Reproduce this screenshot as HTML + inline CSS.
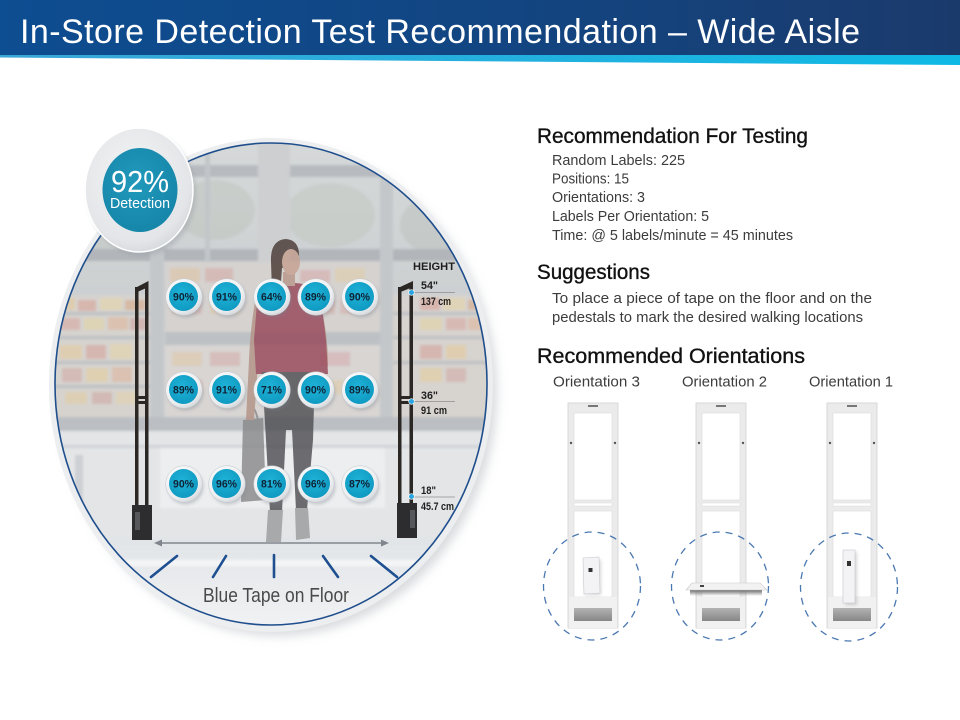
<!DOCTYPE html>
<html><head><meta charset="utf-8">
<style>html,body{margin:0;padding:0;background:#fff;width:960px;height:720px;overflow:hidden}svg{display:block}</style>
</head>
<body>
<svg width="960" height="720" viewBox="0 0 960 720" xmlns="http://www.w3.org/2000/svg" xmlns:xlink="http://www.w3.org/1999/xlink" font-family="Liberation Sans, sans-serif">
<defs>
  <linearGradient id="hdr" x1="0" x2="1" y1="0" y2="0">
    <stop offset="0" stop-color="#0d4d91"/><stop offset="0.6" stop-color="#13447f"/><stop offset="1" stop-color="#1b3a6c"/>
  </linearGradient>
  <linearGradient id="cy" x1="0" x2="1"><stop offset="0" stop-color="#3aa6d6"/><stop offset="1" stop-color="#0fb9e5"/></linearGradient>
  <clipPath id="cl"><ellipse cx="271" cy="384" rx="216" ry="241"/></clipPath>
  <linearGradient id="bg" x1="0" y1="0" x2="0" y2="1">
    <stop offset="0" stop-color="#d6d9d9"/><stop offset="0.35" stop-color="#cbcfd1"/><stop offset="0.6" stop-color="#d1d4d7"/><stop offset="0.8" stop-color="#e6e8ea"/><stop offset="1" stop-color="#f0f1f3"/>
  </linearGradient>
  <linearGradient id="floor" x1="0" y1="0" x2="0" y2="1">
    <stop offset="0" stop-color="#e1e4e7"/><stop offset="1" stop-color="#f3f4f6"/>
  </linearGradient>
  <radialGradient id="btn" cx="0.4" cy="0.35" r="0.75"><stop offset="0" stop-color="#ffffff"/><stop offset="0.7" stop-color="#eceef0"/><stop offset="1" stop-color="#c9cdd2"/></radialGradient>
  <radialGradient id="teal" cx="0.45" cy="0.4" r="0.65"><stop offset="0" stop-color="#1fb3d8"/><stop offset="1" stop-color="#0e98c0"/></radialGradient>
  <radialGradient id="halo" cx="0.45" cy="0.4" r="0.65"><stop offset="0" stop-color="#f4f5f6"/><stop offset="0.8" stop-color="#e3e5e8"/><stop offset="1" stop-color="#d2d5d9"/></radialGradient>
  <radialGradient id="bteal" cx="0.45" cy="0.4" r="0.65"><stop offset="0" stop-color="#2199bb"/><stop offset="1" stop-color="#1585a8"/></radialGradient>
  <linearGradient id="gband" x1="0" y1="0" x2="0" y2="1"><stop offset="0" stop-color="#b3b3b3"/><stop offset="1" stop-color="#878787"/></linearGradient>
  <linearGradient id="trsh" x1="0" y1="0" x2="0" y2="1"><stop offset="0" stop-color="#6a6a6a"/><stop offset="1" stop-color="#6a6a6a" stop-opacity="0"/></linearGradient>
  <filter id="bl" x="-20%" y="-20%" width="140%" height="140%"><feGaussianBlur stdDeviation="5"/></filter>
  <filter id="bl2" x="-30%" y="-30%" width="160%" height="160%"><feGaussianBlur stdDeviation="1.5"/></filter>
  <filter id="bl3" x="-10%" y="-10%" width="120%" height="120%"><feGaussianBlur stdDeviation="2"/></filter>
  <filter id="soft" x="-10%" y="-10%" width="120%" height="120%"><feGaussianBlur stdDeviation="1.2"/></filter>
  <g id="b">
    <circle cx="1.5" cy="2.5" r="18" fill="#7a8088" opacity="0.35" filter="url(#bl2)"/>
    <circle cx="0" cy="0" r="18.3" fill="url(#btn)" stroke="#c3c8cd" stroke-width="0.5"/>
    <circle cx="-0.5" cy="-0.5" r="14.5" fill="url(#teal)"/>
  </g>
  <g id="ped">
    <rect x="0" y="0" width="50" height="225" fill="#ebebeb" stroke="#d2d2d2" stroke-width="0.8"/>
    <rect x="6" y="10" width="38" height="87" fill="#ffffff" stroke="#dcdcdc" stroke-width="0.6"/>
    <rect x="6" y="100" width="38" height="3" fill="#ffffff" stroke="#dcdcdc" stroke-width="0.5"/>
    <rect x="6" y="108" width="38" height="86" fill="#ffffff" stroke="#dcdcdc" stroke-width="0.6"/>
    <rect x="1" y="194" width="48" height="31" fill="#f1f1f1"/>
    <rect x="6" y="205" width="38" height="13" fill="url(#gband)"/>
    <rect x="20" y="2" width="10" height="2" fill="#777"/>
    <circle cx="3" cy="40" r="1.2" fill="#555"/>
    <circle cx="47" cy="40" r="1.2" fill="#555"/>
  </g>
</defs>

<!-- Header -->
<rect x="0" y="0" width="960" height="56" fill="url(#hdr)"/>
<polygon points="0,55 960,55 960,65 0,57.5" fill="url(#cy)"/>
<text x="20" y="43" font-size="34" fill="#ffffff" textLength="840" lengthAdjust="spacing">In-Store Detection Test Recommendation – Wide Aisle</text>

<!-- Big lens -->
<ellipse cx="278" cy="392" rx="219" ry="244" fill="#b9bec4" opacity="0.55" filter="url(#bl)"/>
<ellipse cx="271" cy="385" rx="222" ry="247" fill="#eceef0"/>
<g clip-path="url(#cl)">
  <g filter="url(#soft)">
  <rect x="40" y="130" width="470" height="510" fill="url(#bg)"/>
  <g opacity="0.35">
    <ellipse cx="215" cy="210" rx="40" ry="30" fill="#b8beb4"/>
    <ellipse cx="330" cy="215" rx="45" ry="32" fill="#bcc2b8"/>
    <ellipse cx="440" cy="225" rx="40" ry="30" fill="#b4bab2"/>
    <ellipse cx="110" cy="235" rx="40" ry="25" fill="#bcc1ba"/>
  </g>
  <rect x="40" y="165" width="470" height="12" fill="#b7bbbf"/>
  <rect x="40" y="249" width="470" height="12" fill="#b2b6ba"/>
  <rect x="150" y="140" width="14" height="300" fill="#c4c7ca"/>
  <rect x="258" y="140" width="32" height="300" fill="#cdcfd1"/>
  <rect x="380" y="140" width="13" height="300" fill="#c4c7ca"/>
  <rect x="205" y="140" width="5" height="130" fill="#c3c6c9"/>
  <rect x="50" y="295" width="100" height="125" fill="#d6d3cf"/>
  <g opacity="0.5">
    <rect x="55" y="298" width="20" height="12" fill="#e6c98e"/><rect x="78" y="300" width="18" height="11" fill="#d99a8f"/><rect x="100" y="298" width="22" height="12" fill="#e8d6a0"/><rect x="125" y="300" width="20" height="10" fill="#d7a27c"/>
    <rect x="58" y="318" width="22" height="12" fill="#d8a09a"/><rect x="84" y="318" width="20" height="12" fill="#e5d39c"/><rect x="108" y="317" width="20" height="13" fill="#e0b393"/><rect x="130" y="318" width="16" height="12" fill="#c99a99"/>
    <rect x="60" y="345" width="22" height="14" fill="#e7c893"/><rect x="86" y="345" width="20" height="14" fill="#d69a93"/><rect x="110" y="344" width="22" height="15" fill="#e8d4a2"/>
    <rect x="62" y="368" width="20" height="14" fill="#d3a4a0"/><rect x="86" y="368" width="22" height="14" fill="#e9cf97"/><rect x="112" y="367" width="20" height="15" fill="#dfb196"/>
    <rect x="65" y="392" width="22" height="12" fill="#e4cc9a"/><rect x="92" y="392" width="20" height="12" fill="#cfa09c"/><rect x="116" y="392" width="20" height="12" fill="#e6d4a6"/>
  </g>
  <rect x="50" y="312" width="100" height="3" fill="#bec1c4"/>
  <rect x="50" y="336" width="100" height="3" fill="#bec1c4"/>
  <rect x="50" y="361" width="100" height="3" fill="#bec1c4"/>
  <rect x="50" y="385" width="100" height="3" fill="#bec1c4"/>
  <rect x="393" y="295" width="100" height="125" fill="#d7d3cf"/>
  <g opacity="0.5">
    <rect x="420" y="298" width="20" height="12" fill="#d99a8f"/><rect x="443" y="298" width="22" height="12" fill="#e8d6a0"/><rect x="468" y="300" width="18" height="10" fill="#d7a27c"/>
    <rect x="420" y="318" width="22" height="12" fill="#e5d39c"/><rect x="446" y="318" width="20" height="12" fill="#d8a09a"/><rect x="468" y="318" width="18" height="12" fill="#e0b393"/>
    <rect x="420" y="345" width="22" height="14" fill="#d69a93"/><rect x="446" y="345" width="20" height="14" fill="#e7c893"/>
    <rect x="420" y="368" width="22" height="14" fill="#e9cf97"/><rect x="446" y="368" width="20" height="14" fill="#d3a4a0"/>
  </g>
  <rect x="393" y="312" width="100" height="3" fill="#bec1c4"/>
  <rect x="393" y="336" width="100" height="3" fill="#bec1c4"/>
  <rect x="393" y="361" width="100" height="3" fill="#bec1c4"/>
  <rect x="165" y="262" width="215" height="70" fill="#d5d2d0"/>
  <rect x="165" y="345" width="215" height="72" fill="#d8d5d3"/>
  <g opacity="0.4">
    <rect x="170" y="268" width="30" height="14" fill="#e2c08f"/><rect x="205" y="268" width="28" height="14" fill="#d49a92"/><rect x="300" y="270" width="30" height="12" fill="#d59a9a"/><rect x="335" y="268" width="30" height="14" fill="#e4cc98"/>
    <rect x="172" y="300" width="30" height="14" fill="#d6a29c"/><rect x="210" y="300" width="30" height="14" fill="#e5c896"/><rect x="305" y="300" width="30" height="14" fill="#dca596"/><rect x="340" y="300" width="30" height="14" fill="#d7a19d"/>
    <rect x="172" y="352" width="30" height="14" fill="#e2c494"/><rect x="210" y="352" width="30" height="14" fill="#d39e98"/><rect x="320" y="352" width="30" height="14" fill="#d69aa0"/>
    <rect x="175" y="380" width="28" height="14" fill="#d9a69a"/><rect x="330" y="380" width="30" height="14" fill="#e5c996"/>
  </g>
  <rect x="165" y="332" width="215" height="13" fill="#bdc1c5"/>
  <rect x="40" y="417" width="470" height="14" fill="#bbbfc3"/>
  <rect x="40" y="431" width="470" height="110" fill="#e3e5e7"/>
  <rect x="40" y="445" width="470" height="3" fill="#d0d3d6"/>
  <rect x="160" y="448" width="225" height="60" fill="#eceef0"/>
  <rect x="75" y="455" width="8" height="60" fill="#cdd0d4"/>
  <rect x="40" y="538" width="470" height="100" fill="url(#floor)"/>
  <rect x="120" y="560" width="300" height="6" fill="#f7f8f9" opacity="0.8"/>
  </g>

  <!-- person -->
  <g opacity="0.82">
    <path d="M243,420 L263,418 L266,500 L241,502 Z" fill="#8a8a8c"/>
    <path d="M248,420 Q252,395 258,420" stroke="#8a8a8c" stroke-width="2" fill="none"/>
    <path d="M256,295 Q250,330 249,360 L246,420 L254,420 L258,365 L262,330 Z" fill="#b39286"/>
    <path d="M318,295 Q328,330 328,365 L324,385 L318,384 L319,360 L314,330 Z" fill="#b39286"/>
    <path d="M258,290 Q270,282 288,283 Q305,282 320,290 L326,340 L328,374 L256,374 L254,340 Z" fill="#98485a"/>
    <path d="M262,372 L315,372 L313,440 L307,510 L296,510 L292,430 L286,430 L282,512 L270,512 L266,440 Z" fill="#4f4f54"/>
    <path d="M268,510 L283,510 L281,542 L266,542 Z" fill="#9c9c9e"/>
    <path d="M295,508 L308,508 L310,538 L296,540 Z" fill="#9c9c9e"/>
    <rect x="283" y="272" width="12" height="14" fill="#b8978a"/>
    <path d="M271,262 Q270,240 286,239 Q300,240 299,258 L298,266 L282,268 L280,295 L272,292 Z" fill="#4a3a35"/>
    <ellipse cx="291" cy="262" rx="9" ry="13" fill="#c6a191"/>
  </g>

  <!-- left antenna -->
  <g fill="#2b2725">
    <rect x="135" y="287" width="3.5" height="220"/>
    <rect x="145" y="283" width="3.5" height="224"/>
    <polygon points="135,288 148.5,281 148.5,287 135,293"/>
    <rect x="135" y="396" width="13.5" height="3"/>
    <rect x="135" y="401" width="13.5" height="3"/>
    <rect x="132" y="505" width="20" height="35" fill="#2d2d2f"/>
  </g>
  <rect x="135" y="512" width="5" height="18" fill="#55575a"/>
  <!-- right antenna -->
  <g fill="#2b2725">
    <rect x="398" y="287" width="3.5" height="218"/>
    <rect x="409.5" y="283" width="3.5" height="222"/>
    <polygon points="398,288 413,281 413,287 398,293"/>
    <rect x="398" y="396" width="15" height="3"/>
    <rect x="398" y="401" width="15" height="3"/>
    <rect x="397" y="503" width="20" height="35" fill="#2d2d2f"/>
  </g>
  <rect x="410" y="510" width="5" height="18" fill="#55575a"/>
</g>
<ellipse cx="271" cy="384" rx="216" ry="241" fill="none" stroke="#1f4e8c" stroke-width="1.6"/>

<!-- arrow -->
<line x1="158" y1="543" x2="385" y2="543" stroke="#80868d" stroke-width="1.5"/>
<polygon points="154,543 162,539.5 162,546.5" fill="#80868d"/>
<polygon points="389,543 381,539.5 381,546.5" fill="#80868d"/>

<!-- blue tape lines -->
<g stroke="#1d4f91" stroke-width="2.6" stroke-linecap="round">
  <line x1="177" y1="556" x2="151" y2="577"/>
  <line x1="226" y1="556" x2="213" y2="577"/>
  <line x1="274" y1="555" x2="274" y2="577"/>
  <line x1="323" y1="556" x2="338" y2="577"/>
  <line x1="371" y1="556" x2="397" y2="577"/>
</g>
<text x="203" y="602" font-size="20" fill="#4a4a4a" textLength="146" lengthAdjust="spacingAndGlyphs">Blue Tape on Floor</text>

<!-- height labels -->
<text x="413" y="270" font-size="11" font-weight="bold" fill="#1e1e1e" textLength="42" lengthAdjust="spacingAndGlyphs">HEIGHT</text>
<g stroke="#8f8f8f" stroke-width="0.8">
  <line x1="412" y1="292.5" x2="455" y2="292.5"/>
  <line x1="412" y1="401.5" x2="455" y2="401.5"/>
  <line x1="412" y1="497" x2="455" y2="497"/>
</g>
<g font-size="11" fill="#1e1e1e" font-weight="bold">
  <text x="421" y="289" textLength="17" lengthAdjust="spacingAndGlyphs">54"</text>
  <text x="421" y="305" textLength="30" lengthAdjust="spacingAndGlyphs">137 cm</text>
  <text x="421" y="399" textLength="17" lengthAdjust="spacingAndGlyphs">36"</text>
  <text x="421" y="414" textLength="26" lengthAdjust="spacingAndGlyphs">91 cm</text>
  <text x="421" y="494" textLength="15" lengthAdjust="spacingAndGlyphs">18"</text>
  <text x="421" y="510" textLength="33" lengthAdjust="spacingAndGlyphs">45.7 cm</text>
</g>
<g fill="#2aa4e0" stroke="#ffffff" stroke-width="0.6">
  <circle cx="411.5" cy="292.5" r="2.8"/>
  <circle cx="411.5" cy="401.5" r="2.8"/>
  <circle cx="411.5" cy="496.5" r="2.8"/>
</g>

<!-- buttons -->
<use xlink:href="#b" x="184" y="297"/><use xlink:href="#b" x="227" y="297"/><use xlink:href="#b" x="272" y="297"/><use xlink:href="#b" x="316" y="297"/><use xlink:href="#b" x="360" y="297"/>
<use xlink:href="#b" x="184" y="390"/><use xlink:href="#b" x="227" y="390"/><use xlink:href="#b" x="272" y="390"/><use xlink:href="#b" x="316" y="390"/><use xlink:href="#b" x="360" y="390"/>
<use xlink:href="#b" x="184" y="484"/><use xlink:href="#b" x="227" y="484"/><use xlink:href="#b" x="272" y="484"/><use xlink:href="#b" x="316" y="484"/><use xlink:href="#b" x="360" y="484"/>
<g font-size="11" font-weight="bold" fill="#0f2336" text-anchor="middle">
  <text x="183.5" y="300.5" textLength="21" lengthAdjust="spacingAndGlyphs">90%</text>
  <text x="226.5" y="300.5" textLength="21" lengthAdjust="spacingAndGlyphs">91%</text>
  <text x="271.5" y="300.5" textLength="21" lengthAdjust="spacingAndGlyphs">64%</text>
  <text x="315.5" y="300.5" textLength="21" lengthAdjust="spacingAndGlyphs">89%</text>
  <text x="359.5" y="300.5" textLength="21" lengthAdjust="spacingAndGlyphs">90%</text>
  <text x="183.5" y="393.5" textLength="21" lengthAdjust="spacingAndGlyphs">89%</text>
  <text x="226.5" y="393.5" textLength="21" lengthAdjust="spacingAndGlyphs">91%</text>
  <text x="271.5" y="393.5" textLength="21" lengthAdjust="spacingAndGlyphs">71%</text>
  <text x="315.5" y="393.5" textLength="21" lengthAdjust="spacingAndGlyphs">90%</text>
  <text x="359.5" y="393.5" textLength="21" lengthAdjust="spacingAndGlyphs">89%</text>
  <text x="183.5" y="487.5" textLength="21" lengthAdjust="spacingAndGlyphs">90%</text>
  <text x="226.5" y="487.5" textLength="21" lengthAdjust="spacingAndGlyphs">96%</text>
  <text x="271.5" y="487.5" textLength="21" lengthAdjust="spacingAndGlyphs">81%</text>
  <text x="315.5" y="487.5" textLength="21" lengthAdjust="spacingAndGlyphs">96%</text>
  <text x="359.5" y="487.5" textLength="21" lengthAdjust="spacingAndGlyphs">87%</text>
</g>

<!-- 92% badge -->
<ellipse cx="142" cy="194" rx="54" ry="62" fill="#9aa0a8" opacity="0.45" filter="url(#bl3)"/>
<ellipse cx="139" cy="190" rx="54" ry="62" fill="url(#halo)" stroke="#ffffff" stroke-width="1.5"/>
<ellipse cx="140" cy="190" rx="37.5" ry="42" fill="url(#bteal)"/>
<text x="140" y="192" font-size="31" fill="#ffffff" text-anchor="middle" textLength="58" lengthAdjust="spacingAndGlyphs">92%</text>
<text x="140" y="208" font-size="15" fill="#ffffff" text-anchor="middle" textLength="60" lengthAdjust="spacingAndGlyphs">Detection</text>

<!-- Right text -->
<g fill="#111111" stroke="#111111" stroke-width="0.35" font-size="21">
  <text x="537" y="143" textLength="271" lengthAdjust="spacingAndGlyphs">Recommendation For Testing</text>
  <text x="537" y="279" textLength="113" lengthAdjust="spacingAndGlyphs">Suggestions</text>
  <text x="537" y="363" textLength="268" lengthAdjust="spacingAndGlyphs">Recommended Orientations</text>
</g>
<g fill="#3c3c3c" font-size="15">
  <text x="552" y="165" textLength="133" lengthAdjust="spacingAndGlyphs">Random Labels: 225</text>
  <text x="552" y="183.5" textLength="77" lengthAdjust="spacingAndGlyphs">Positions: 15</text>
  <text x="552" y="202" textLength="93" lengthAdjust="spacingAndGlyphs">Orientations: 3</text>
  <text x="552" y="221" textLength="157" lengthAdjust="spacingAndGlyphs">Labels Per Orientation: 5</text>
  <text x="552" y="240" textLength="241" lengthAdjust="spacingAndGlyphs">Time: @ 5 labels/minute = 45 minutes</text>
  <text x="552" y="303" textLength="320" lengthAdjust="spacingAndGlyphs">To place a piece of tape on the floor and on the</text>
  <text x="552" y="322" textLength="311" lengthAdjust="spacingAndGlyphs">pedestals to mark the desired walking locations</text>
  <text x="553" y="386.5" textLength="87" lengthAdjust="spacingAndGlyphs">Orientation 3</text>
  <text x="682" y="386.5" textLength="85" lengthAdjust="spacingAndGlyphs">Orientation 2</text>
  <text x="809" y="386.5" textLength="84" lengthAdjust="spacingAndGlyphs">Orientation 1</text>
</g>

<!-- Orientation pedestals -->
<use xlink:href="#ped" x="568" y="403"/>
<use xlink:href="#ped" x="696" y="403"/>
<use xlink:href="#ped" x="827" y="403"/>

<rect x="585" y="560" width="16" height="35" fill="#8a8a8a" opacity="0.35" filter="url(#bl2)"/>
<polygon points="583,558 599,557 600,593 584,594" fill="#f3f3f6" stroke="#c9c9cf" stroke-width="0.6"/>
<rect x="588.5" y="568" width="4" height="4" fill="#333"/>
<rect x="690" y="590" width="72" height="6" fill="url(#trsh)"/>
<polygon points="692,583 760,583 767,590 686,590" fill="#f2f2f2" stroke="#c8c8c8" stroke-width="0.6"/>
<rect x="700" y="585" width="4" height="2" fill="#444"/>
<rect x="845" y="552" width="12" height="53" fill="#8a8a8a" opacity="0.35" filter="url(#bl2)"/>
<rect x="843" y="550" width="12" height="53" fill="#f3f3f6" stroke="#c9c9cf" stroke-width="0.6"/>
<rect x="847" y="561" width="4" height="5" fill="#333"/>

<g fill="none" stroke="#4a78b0" stroke-width="1.3" stroke-dasharray="7 6">
  <ellipse cx="592" cy="586" rx="48.5" ry="54"/>
  <ellipse cx="720" cy="586" rx="48.5" ry="54"/>
  <ellipse cx="849" cy="587" rx="48.5" ry="54"/>
</g>
</svg>
</body></html>
